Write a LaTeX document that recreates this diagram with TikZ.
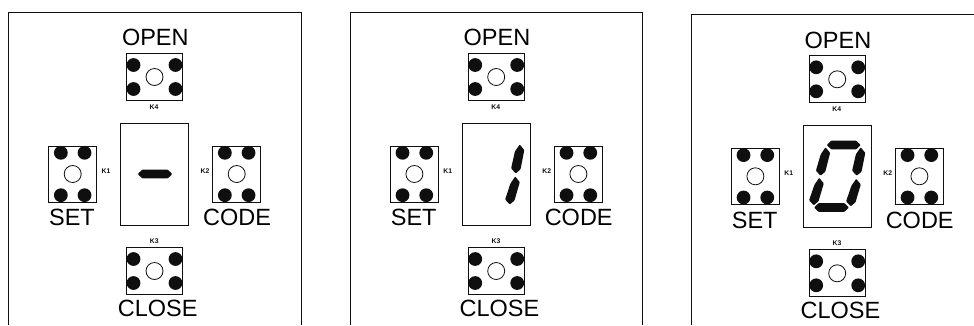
\documentclass[tikz,border=0pt]{standalone}
\usepackage{fontspec}
\setmainfont{Liberation Sans}
\usetikzlibrary{positioning}
\definecolor{panelline}{RGB}{15,15,15}
% key: name, centre x, centre y, width, height, dot dx, dot dy
\newcommand{\keycap}[7]{
  \node[keybox,minimum width=#4pt,minimum height=#5pt] (#1) at (#2,#3) {};
  \node[lamp] (#1-lamp) at (#1.center) {};
  \foreach \sx in {-1,1}
    \foreach \sy in {-1,1}
      \fill[panelline] (#2+\sx*#6,#3+\sy*#7) circle (6.9);
}
% segments of the display: end tips of the bar
\newcommand{\vseg}[4]{
  \fill[panelline,rounded corners=0.8pt] (#1,#2) -- (#1+4.6,#2+5.6) -- (#3+4.8,#4-4) -- (#3,#4) -- (#3-4.6,#4-5) -- (#1-4.8,#2+7) -- cycle;
}
\newcommand{\hseg}[3]{
  \fill[panelline,rounded corners=0.8pt] (#1,#3) -- (#1+4.5,#3-4.4) -- (#2-4.5,#3-4.4) -- (#2,#3) -- (#2-4.5,#3+4.4) -- (#1+4.5,#3+4.4) -- cycle;
}
\begin{document}
\begin{tikzpicture}[
  x=1pt,y=-1pt,
  keybox/.style={rectangle,draw=panelline,line width=0.9pt,inner sep=0pt},
  lamp/.style={circle,draw=panelline,line width=0.8pt,minimum size=17pt,inner sep=0pt},
  screen/.style={rectangle,draw=panelline,line width=0.9pt,minimum width=68.5pt,minimum height=102.5pt,inner sep=0pt},
  caption/.style={font=\fontsize{23.5}{23.5}\selectfont,text=black,inner sep=0pt},
  keytag/.style={font=\bfseries\fontsize{6.8}{6.8}\selectfont,text=panelline,inner sep=0pt},
  frame/.style={draw=panelline,line width=0.9pt}
]
\useasboundingbox (0,0) rectangle (974,325);
\draw[frame] (8.5,325) -- (8.5,12) -- (301.5,12) -- (301.5,325);
\draw[frame] (350,325) -- (350,12) -- (642.7,12) -- (642.7,325);
\draw[frame] (691,325) -- (691,14) -- (974,14);
\foreach \pname/\ox/\oy in {a/0/0,b/341.7/0,c/682.7/2.3}{
  \begin{scope}[shift={(\ox,\oy)}]
    \node[caption] (\pname-open) at (155.3,37.7) {OPEN};
    \keycap{\pname-k4}{154.5}{77}{56}{47}{21}{12}
    \node[keytag] (\pname-t4) at (154,107.3) {K4};
    \node[screen] (\pname-disp) at (154.5,174.3) {};
    \keycap{\pname-k1}{72.7}{174}{48}{56}{11.85}{21.2}
    \node[keytag] (\pname-t1) at (106,171.3) {K1};
    \node[caption] (\pname-set) at (72,217.7) {SET};
    \keycap{\pname-k2}{236.7}{174}{48}{56}{11.85}{21.2}
    \node[keytag] (\pname-t2) at (205,171.3) {K2};
    \node[caption] (\pname-code) at (237,217.7) {CODE};
    \node[keytag] (\pname-t3) at (154.3,241) {K3};
    \keycap{\pname-k3}{154.5}{271}{56}{47}{21}{12}
    \node[caption] (\pname-close) at (157.7,308) {CLOSE};
  \end{scope}
}
% dash on the first display
\hseg{137.7}{172.3}{174}
% one on the second display
\begin{scope}[shift={(341.7,0)}]
  \vseg{178}{144.5}{174}{173.4}
  \vseg{173.5}{176.5}{168}{204.5}
\end{scope}
% zero on the third display
\begin{scope}[shift={(682.7,2.3)}]
  \hseg{144}{178}{142.7}
  \vseg{178}{145}{174}{173.4}
  \vseg{142.8}{145}{137.8}{173.4}
  \vseg{173.5}{176.5}{168}{204}
  \vseg{136.5}{175.5}{131}{203}
  \hseg{131.3}{166.3}{205.2}
\end{scope}
\end{tikzpicture}
\end{document}
